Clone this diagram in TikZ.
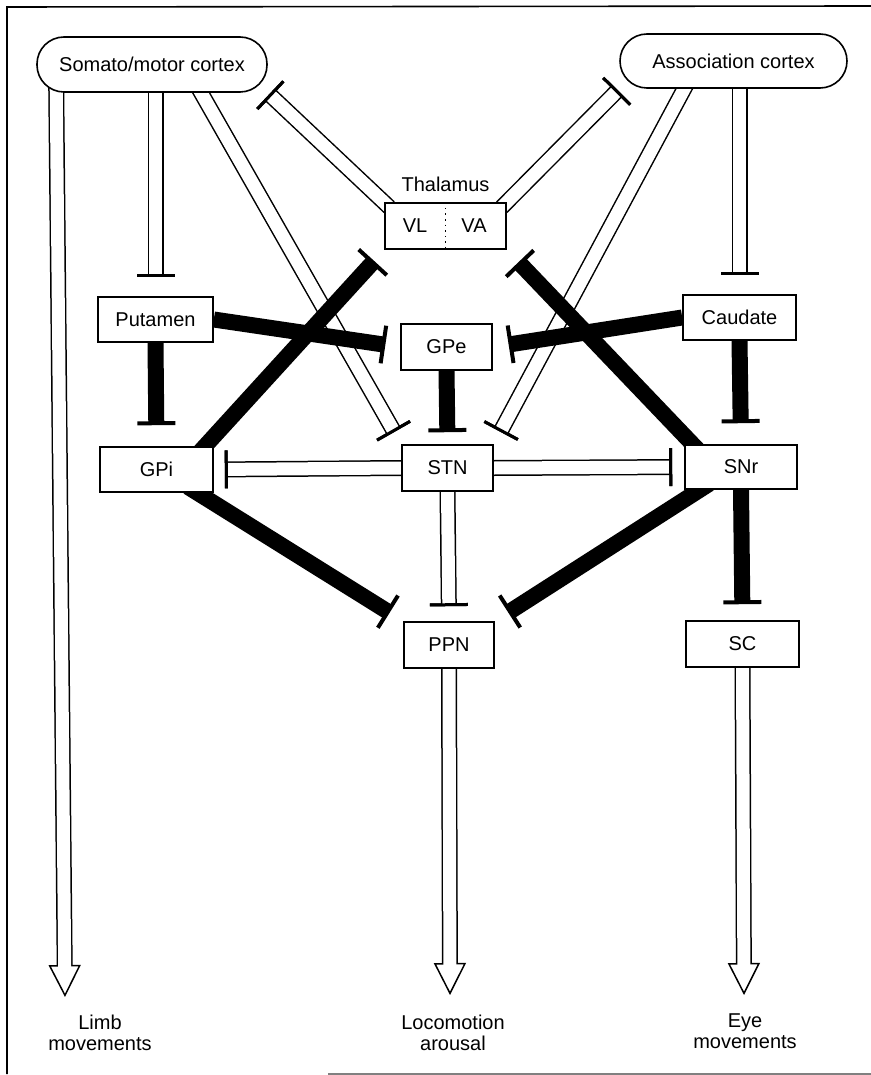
\documentclass[tikz,border=0pt]{standalone}
\usepackage{fontspec}
\setmainfont{Liberation Sans}
\usetikzlibrary{arrows.meta,positioning,calc,backgrounds}

\tikzstyle{cortex} = [draw, line width=0.8pt, rectangle, rounded corners=13.5pt, fill=white, minimum height=27.5pt, inner sep=0pt]
\tikzstyle{nucleus} = [draw, line width=0.8pt, rectangle, fill=white, minimum height=22.5pt, inner sep=0pt]
\tikzstyle{inhib} = [line width=8pt, -{Bar[width=19pt, line width=2pt]}]
\tikzstyle{hollow} = [line width=8pt, -{Bar[width=19pt, line width=1.5pt]}, postaction={draw=white, line width=6.5pt, -{Bar[width=19pt, line width=1.5pt, color=black]}}]
\tikzstyle{output} = [line width=8pt, -{Triangle[width=16pt, length=16pt, line width=0.75pt, fill=white]}, postaction={draw=white, line width=6.5pt, -, shorten >=15pt}]
\tikzstyle{outtext} = [align=center, inner sep=0pt]

\begin{document}
\begin{tikzpicture}[x=0.5pt, y=-0.5pt, font=\fontsize{10}{10.5}\selectfont]
\useasboundingbox (0,0) rectangle (871,1075);
% frame
\draw[line width=0.8pt] (871,6) -- (7,7) -- (7,1074);
\draw[line width=0.8pt, gray] (328,1074) -- (871,1074);

% cortex
\node[cortex, minimum width=115pt] (motor) at (152,64.5) {Somato/motor cortex};
\node[cortex, minimum width=113.5pt, minimum height=27pt] (assoc) at (733.5,61) {Association cortex};

% thalamus
\node[nucleus, minimum width=60.5pt, minimum height=23pt] (thal) at (445.5,226) {};
\node (vl) at (415,226) {VL};
\node (va) at (474,226) {VA};
\draw[dotted, line width=0.8pt] (thal.north) -- (thal.south);
\node[above=5pt of thal, inner sep=0pt] (thaltxt) {Thalamus};

% basal ganglia
\node[nucleus, minimum width=57.5pt] (put) at (155.5,319.5) {Putamen};
\node[nucleus, minimum width=45.5pt, minimum height=23pt] (gpe) at (446.5,347) {GPe};
\node[nucleus, minimum width=56.5pt] (caud) at (739.5,317.5) {Caudate};
\node[nucleus, minimum width=56.5pt] (gpi) at (156.5,469.5) {GPi};
\node[nucleus, minimum width=45.5pt, minimum height=23pt] (stn) at (447.5,468) {STN};
\node[nucleus, minimum width=56pt, minimum height=22pt] (snr) at (741,467) {SNr};
\node[nucleus, minimum width=45pt, minimum height=23pt] (ppn) at (449,645) {PPN};
\node[nucleus, minimum width=56.5pt, minimum height=23pt] (sc) at (742.5,644) {SC};

% outputs
\coordinate (limbtip) at (65,997);
\coordinate (locotip) at (450,995);
\coordinate (eyetip) at (744,995);
\node[outtext] (limb) at (100,1033) {Limb\\movements};
\node[outtext] (loco) at (453,1033) {Locomotion\\arousal};
\node[outtext] (eye) at (745,1031) {Eye\\movements};

\begin{scope}[on background layer]
% open pathways
\draw[hollow, shorten >=9.5pt] (motor.south -| put.north) -- (put.north);
\draw[hollow, shorten >=9.5pt] (assoc.south -| caud.north) -- (caud.north);
\draw[hollow, shorten >=7pt] ($(motor.south)+(44,-9)$) -- (stn.north west);
\draw[hollow, shorten >=7pt] ($(assoc.south)+(-44.5,-9)$) -- (stn.north east);
\draw[hollow, shorten >=1pt] ($(thal.north west)+(5,5)$) -- (motor.south east);
\draw[hollow, shorten >=1pt] ($(thal.north east)+(-5,5)$) -- (assoc.south west);
\draw[hollow, shorten >=5.5pt] (stn.west) -- (gpi.east);
\draw[hollow, shorten >=6pt] (stn.east) -- (snr.west);
\draw[hollow, shorten >=7.5pt] (stn.south) -- (ppn.north);

% black pathways
\draw[inhib, shorten >=10.5pt] (put.south) -- (gpi.north);
\draw[inhib, shorten >=10.5pt] (caud.south) -- (snr.north);
\draw[inhib, shorten >=6pt] (gpe.south) -- (stn.north);
\draw[inhib, shorten >=8pt] (snr.south) -- (sc.north);
\draw[inhib, shorten >=7.5pt] (put.east) -- (gpe.west);
\draw[inhib, shorten >=8pt] (caud.west) -- (gpe.east);
\draw[inhib, shorten >=7.5pt] ($(gpi.north east)+(-17,9)$) -- (thal.south west);
\draw[inhib, shorten >=8.5pt] ($(snr.north west)+(17,9)$) -- (thal.south east);
\draw[inhib, shorten >=8pt] ($(gpi.south east)+(-26,-6)$) -- (ppn.north west);
\draw[inhib, shorten >=8pt] ($(snr.south west)+(25,-6)$) -- (ppn.north east);

% outputs
\draw[output] ($(motor.south west)+(20,-7)$) -- (limbtip);
\draw[output] (ppn.south) -- (locotip);
\draw[output] (sc.south) -- (eyetip);
\end{scope}
\end{tikzpicture}
\end{document}
